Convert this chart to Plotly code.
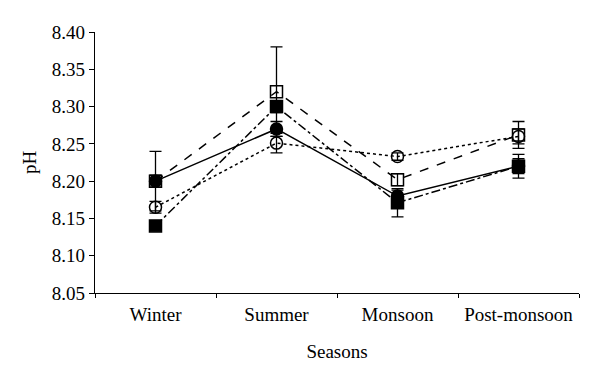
import plotly.graph_objects as go

seasons = ["Winter", "Summer", "Monsoon", "Post-monsoon"]

# Series values (pH) and error bar half-widths
filled_circle = [8.200, 8.270, 8.180, 8.220]
filled_circle_err = [0.040, 0.010, 0.008, 0.010]

open_square = [8.200, 8.320, 8.202, 8.262]
open_square_err = [0.008, 0.060, 0.008, 0.018]

open_circle = [8.165, 8.251, 8.233, 8.260]
open_circle_err = [0.008, 0.013, 0.005, 0.010]

filled_square = [8.140, 8.300, 8.171, 8.220]
filled_square_err = [0.006, 0.008, 0.019, 0.016]

series = [
    ("Series A", filled_square, filled_square_err, "square", "dashdot"),
    ("Series B", open_circle, open_circle_err, "circle-open", "dot"),
    ("Series C", open_square, open_square_err, "square-open", "dash"),
    ("Series D", filled_circle, filled_circle_err, "circle", "solid"),
]

fig = go.Figure()
for name, vals, errs, sym, dash in series:
    fig.add_trace(go.Scatter(
        x=seasons, y=vals, name=name, mode="lines+markers",
        line=dict(color="black", width=1.5, dash=dash),
        marker=dict(symbol=sym, size=12, color="black",
                    line=dict(color="black", width=1.5)),
        error_y=dict(type="data", array=errs, visible=True,
                     color="black", thickness=1.3, width=6),
    ))

font = "Liberation Serif, Times New Roman, serif"
fig.update_layout(
    width=600, height=377,
    margin=dict(l=95, r=21, t=32, b=84),
    paper_bgcolor="white", plot_bgcolor="white",
    showlegend=False,
    font=dict(family=font, size=19, color="black"),
    xaxis=dict(
        title=dict(text="Seasons", font=dict(size=19), standoff=20),
        range=[-0.5, 3.5],
        showline=True, linecolor="black", linewidth=1.2,
        ticks="outside", ticklen=4, tickcolor="black", tickwidth=1.2,
        tickson="boundaries", showgrid=False, zeroline=False,
        tickfont=dict(size=19), ticklabelstandoff=4,
    ),
    yaxis=dict(
        title=dict(text="pH", font=dict(size=19), standoff=10),
        range=[8.05, 8.40], dtick=0.05, tickformat=".2f",
        showline=True, linecolor="black", linewidth=1.2,
        ticks="outside", ticklen=5, tickcolor="black", tickwidth=1.2,
        showgrid=False, zeroline=False,
        tickfont=dict(size=19),
    ),
)

fig.write_html("out.html", config={"displayModeBar": False},
               post_script="document.body.style.margin='0';")
